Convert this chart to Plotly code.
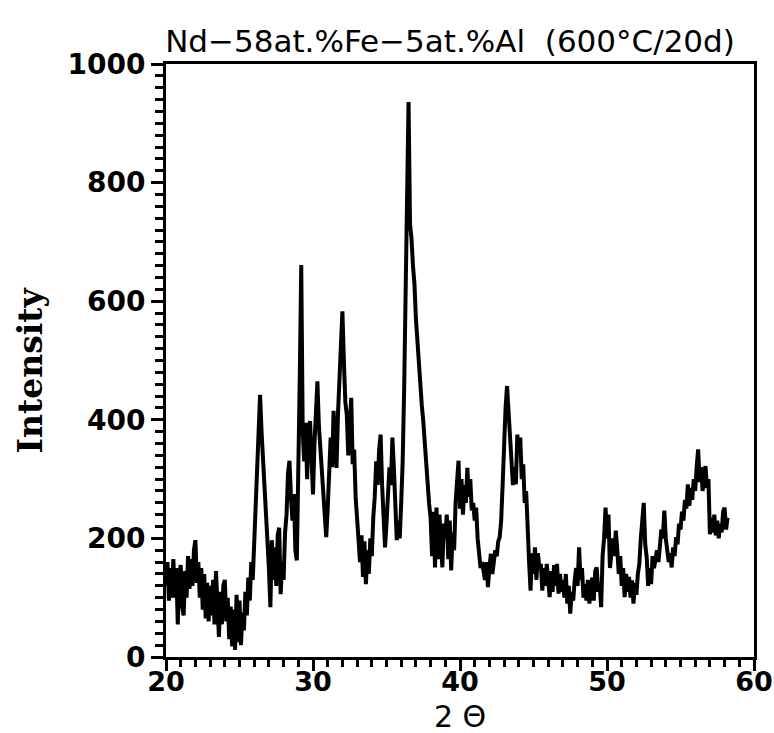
import plotly.graph_objects as go

# 2-theta positions (degrees), 0.1 step
two_theta_start = 20.0
two_theta_step = 0.1

intensity = [
    # 20.0 - 20.9
    120, 160, 95, 150, 100, 165, 100, 150, 55, 135,
    # 21.0 - 21.9
    155, 85, 70, 145, 100, 170, 115, 165, 120, 180,
    # 22.0 - 22.9
    197, 125, 160, 100, 150, 80, 140, 65, 125, 60,
    # 23.0 - 23.9
    120, 70, 130, 55, 145, 75, 34, 110, 55, 120,
    # 24.0 - 24.9
    130, 60, 100, 30, 85, 18, 80, 12, 105, 25,
    # 25.0 - 25.9
    95, 20, 75, 45, 110, 70, 134, 95, 160, 130,
    # 26.0 - 26.9
    200, 260, 330, 410, 442, 380, 336, 270, 220, 180,
    # 27.0 - 27.9
    150, 84, 197, 130, 185, 120, 205, 218, 106, 160,
    # 28.0 - 28.9
    130, 210, 240, 310, 331, 270, 230, 275, 180, 163,
    # 29.0 - 29.9
    280, 470, 661, 381, 330, 395, 300, 380, 398, 320,
    # 30.0 - 30.9
    274, 360, 430, 465, 390, 350, 331, 280, 240, 202,
    # 31.0 - 31.9
    250, 320, 370, 320, 415, 360, 319, 410, 460, 510,
    # 32.0 - 32.9
    583, 500, 430, 408, 340, 390, 437, 325, 350, 270,
    # 33.0 - 33.9
    240, 207, 160, 205, 135, 195, 123, 180, 140, 200,
    # 34.0 - 34.9
    170, 235, 270, 330, 290, 350, 375, 290, 230, 185,
    # 35.0 - 35.9
    225, 290, 320, 290, 370, 320, 250, 197, 230, 200,
    # 36.0 - 36.9
    260, 330, 450, 640, 800, 936, 730, 706, 660, 630,
    # 37.0 - 37.9
    571, 530, 490, 455, 425, 398, 360, 325, 290, 258,
    # 38.0 - 38.9
    235, 170, 245, 151, 252, 165, 240, 190, 151, 225,
    # 39.0 - 39.9
    200, 240, 165, 230, 146, 210, 180, 260, 300, 331,
    # 40.0 - 40.9
    250, 300, 240, 290, 260, 319, 270, 300, 247, 260,
    # 41.0 - 41.9
    230, 252, 200, 175, 150, 160, 146, 130, 160, 118,
    # 42.0 - 42.9
    150, 174, 140, 165, 180, 170, 195, 202, 230, 290,
    # 43.0 - 43.9
    370, 420, 457, 410, 358, 330, 290, 320, 291, 375,
    # 44.0 - 44.9
    345, 370, 300, 325, 260, 280, 190, 160, 112, 175,
    # 45.0 - 45.9
    140, 185, 130, 175, 150, 157, 112, 150, 120, 157,
    # 46.0 - 46.9
    130, 101, 145, 110, 155, 120, 157, 107, 140, 110,
    # 47.0 - 47.9
    130, 100, 140, 90, 120, 73, 110, 95, 129, 150,
    # 48.0 - 48.9
    120, 185, 130, 150, 100, 123, 95, 130, 90, 120,
    # 49.0 - 49.9
    134, 95, 145, 151, 110, 125, 84, 170, 200, 252,
    # 50.0 - 50.9
    200, 240, 150, 174, 200, 170, 213, 180, 140, 170,
    # 51.0 - 51.9
    120, 150, 101, 140, 110, 135, 100, 129, 90, 125,
    # 52.0 - 52.9
    105, 140, 157, 200, 230, 260, 190, 168, 120, 150,
    # 53.0 - 53.9
    123, 170, 150, 168, 180, 160, 190, 215, 200, 247,
    # 54.0 - 54.9
    200, 180, 160, 175, 151, 185, 170, 202, 190, 225,
    # 55.0 - 55.9
    215, 245, 230, 265, 250, 291, 255, 285, 265, 300,
    # 56.0 - 56.9
    280, 320, 350, 295, 320, 280, 300, 322, 285, 300,
    # 57.0 - 57.9
    207, 235, 210, 240, 205, 230, 200, 225, 210, 245,
    # 58.0 - 58.2
    252, 215, 235,
]

two_theta = [round(two_theta_start + i * two_theta_step, 2) for i in range(len(intensity))]

x_tick_vals = [20, 30, 40, 50, 60]
y_tick_vals = [0, 200, 400, 600, 800, 1000]

title_text = "Nd\u221258at.%Fe\u22125at.%Al  (600\u00b0C/20d)"
x_title = "2 \u0398"
y_title = "Intensity"

W, H = 774, 733
L, R, T, B = 166, 20, 64, 76

fig = go.Figure()
fig.add_trace(go.Scatter(
    x=two_theta, y=intensity, mode="lines",
    line=dict(color="black", width=4),
    showlegend=False,
))

fig.update_layout(
    width=W, height=H,
    margin=dict(l=L, r=R, t=T, b=B, autoexpand=False),
    paper_bgcolor="white", plot_bgcolor="white",
    title=dict(text=title_text, x=450 / W, xanchor="center", y=1 - 41 / H, yanchor="middle",
               font=dict(family="DejaVu Sans", size=31, color="black")),
)

fig.add_annotation(
    text=x_title, xref="paper", yref="paper", x=0.5, y=0, yshift=-59,
    xanchor="center", yanchor="middle", showarrow=False,
    font=dict(family="DejaVu Sans", size=30, color="black"),
)
fig.add_annotation(
    text=y_title, xref="paper", yref="paper", x=0, y=0.5, xshift=-136, yshift=-10,
    xanchor="center", yanchor="middle", showarrow=False, textangle=-90,
    font=dict(family="DejaVu Serif", size=33, color="black", weight="bold"),
)

fig.update_xaxes(
    range=[20, 60], tickvals=x_tick_vals, ticktext=[str(v) for v in x_tick_vals],
    showgrid=False, zeroline=False, automargin=False,
    showline=True, linecolor="black", linewidth=3, mirror=True,
    ticks="outside", ticklen=11, tickwidth=2.5, tickcolor="black",
    minor=dict(dtick=1, ticks="outside", ticklen=7, tickwidth=2.5, tickcolor="black"),
    tickfont=dict(family="DejaVu Sans", size=27, color="black", weight="bold"),
    ticklabeloverflow="allow", ticklabelstandoff=-12,
)
fig.update_yaxes(
    range=[0, 1000], tickvals=y_tick_vals, ticktext=[str(v) for v in y_tick_vals],
    showgrid=False, zeroline=False, automargin=False,
    showline=True, linecolor="black", linewidth=3, mirror=True,
    ticks="outside", ticklen=12, tickwidth=2.5, tickcolor="black",
    minor=dict(dtick=20, ticks="outside", ticklen=8, tickwidth=2.5, tickcolor="black"),
    tickfont=dict(family="DejaVu Sans", size=28, color="black", weight="bold"),
    ticklabeloverflow="allow",
)

# remove the browser's default page margin so the figure fills the window exactly
fig.write_html(
    "out.html",
    config={"displayModeBar": False},
    post_script="document.body.style.margin='0';document.body.style.overflow='hidden';",
)
